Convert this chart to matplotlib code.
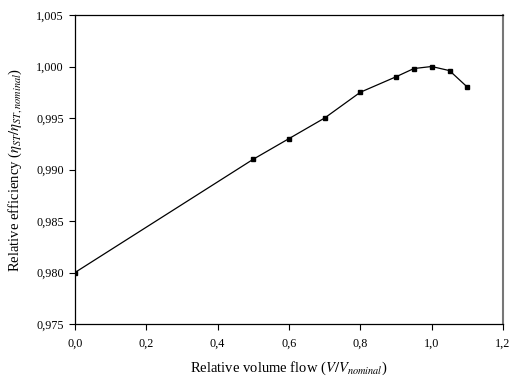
import numpy as np
import matplotlib
matplotlib.use("Agg")
import matplotlib.pyplot as plt

plt.rcParams["font.family"] = "Liberation Serif"
plt.rcParams["mathtext.fontset"] = "stix"

flow = [0.0, 0.5, 0.6, 0.7, 0.8, 0.9, 0.95, 1.0, 1.05, 1.1]
eff = [0.980, 0.991, 0.993, 0.995, 0.9975, 0.999, 0.9998, 1.000, 0.9996, 0.998]

xticks = [0.0, 0.2, 0.4, 0.6, 0.8, 1.0, 1.2]
yticks = [0.975, 0.980, 0.985, 0.990, 0.995, 1.000, 1.005]

fig = plt.figure(figsize=(5.1, 3.78), dpi=100)
ax = fig.add_axes([75 / 510, 54 / 378, 428 / 510, 309 / 378])

ax.plot(flow, eff, color="black", linewidth=0.9, marker="s", markersize=3.3)

ax.set_xlim(0, 1.2)
ax.set_ylim(0.975, 1.005)
ax.set_xticks(xticks)
ax.set_yticks(yticks)
ax.set_xticklabels([f"{v:.1f}".replace(".", ",") for v in xticks], fontsize=8.7)
ax.set_yticklabels([f"{v:.3f}".replace(".", ",") for v in yticks], fontsize=8.7)
ax.tick_params(direction="out", length=4, width=0.8, color="black")
ax.tick_params(axis="x", pad=6)
ax.tick_params(axis="y", pad=4)

ax.set_xlabel(r"Relative volume flow ($V/V_{nominal}$)", fontsize=10.5, labelpad=7)
ax.set_ylabel(r"Relative efficiency ($\eta_{ST}/\eta_{ST,nominal}$)", fontsize=10.5, labelpad=9)

for side in ["left", "bottom", "top"]:
    ax.spines[side].set_linewidth(0.9)
ax.spines["right"].set_color("#777777")
ax.spines["right"].set_linewidth(1.5)

fig.savefig("out.png", dpi=100)
